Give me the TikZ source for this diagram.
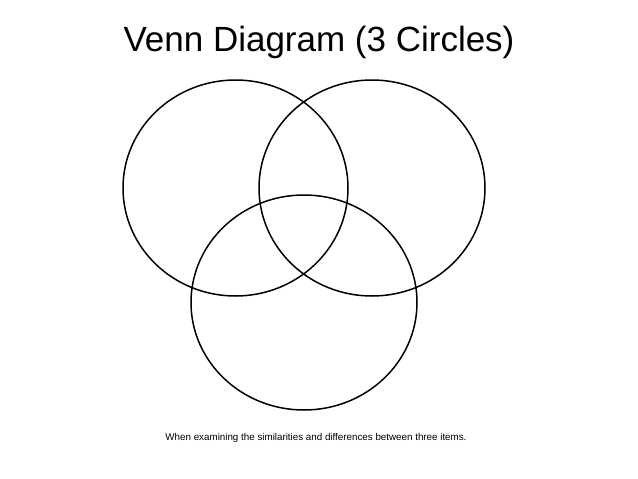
\documentclass[tikz,border=0pt]{standalone}
\usepackage{fontspec}
\setmainfont{Liberation Sans}
\begin{document}
\begin{tikzpicture}[x=1pt,y=-1pt,ring/.style={draw=black,line width=1.5pt}]
\useasboundingbox (0,0) rectangle (638,479);
\node (title) at (319,42) {\fontsize{35}{40}\selectfont Venn Diagram (3 Circles)};
\draw[ring] (235.5,188) ellipse [x radius=112.5,y radius=108];
\draw[ring] (372,188) ellipse [x radius=113,y radius=108];
\draw[ring] (304,302.5) ellipse [x radius=113,y radius=107.5];
\node (foot) at (316,438) {\fontsize{9.8}{12}\selectfont When examining the similarities and differences between three items.};
\end{tikzpicture}
\end{document}
